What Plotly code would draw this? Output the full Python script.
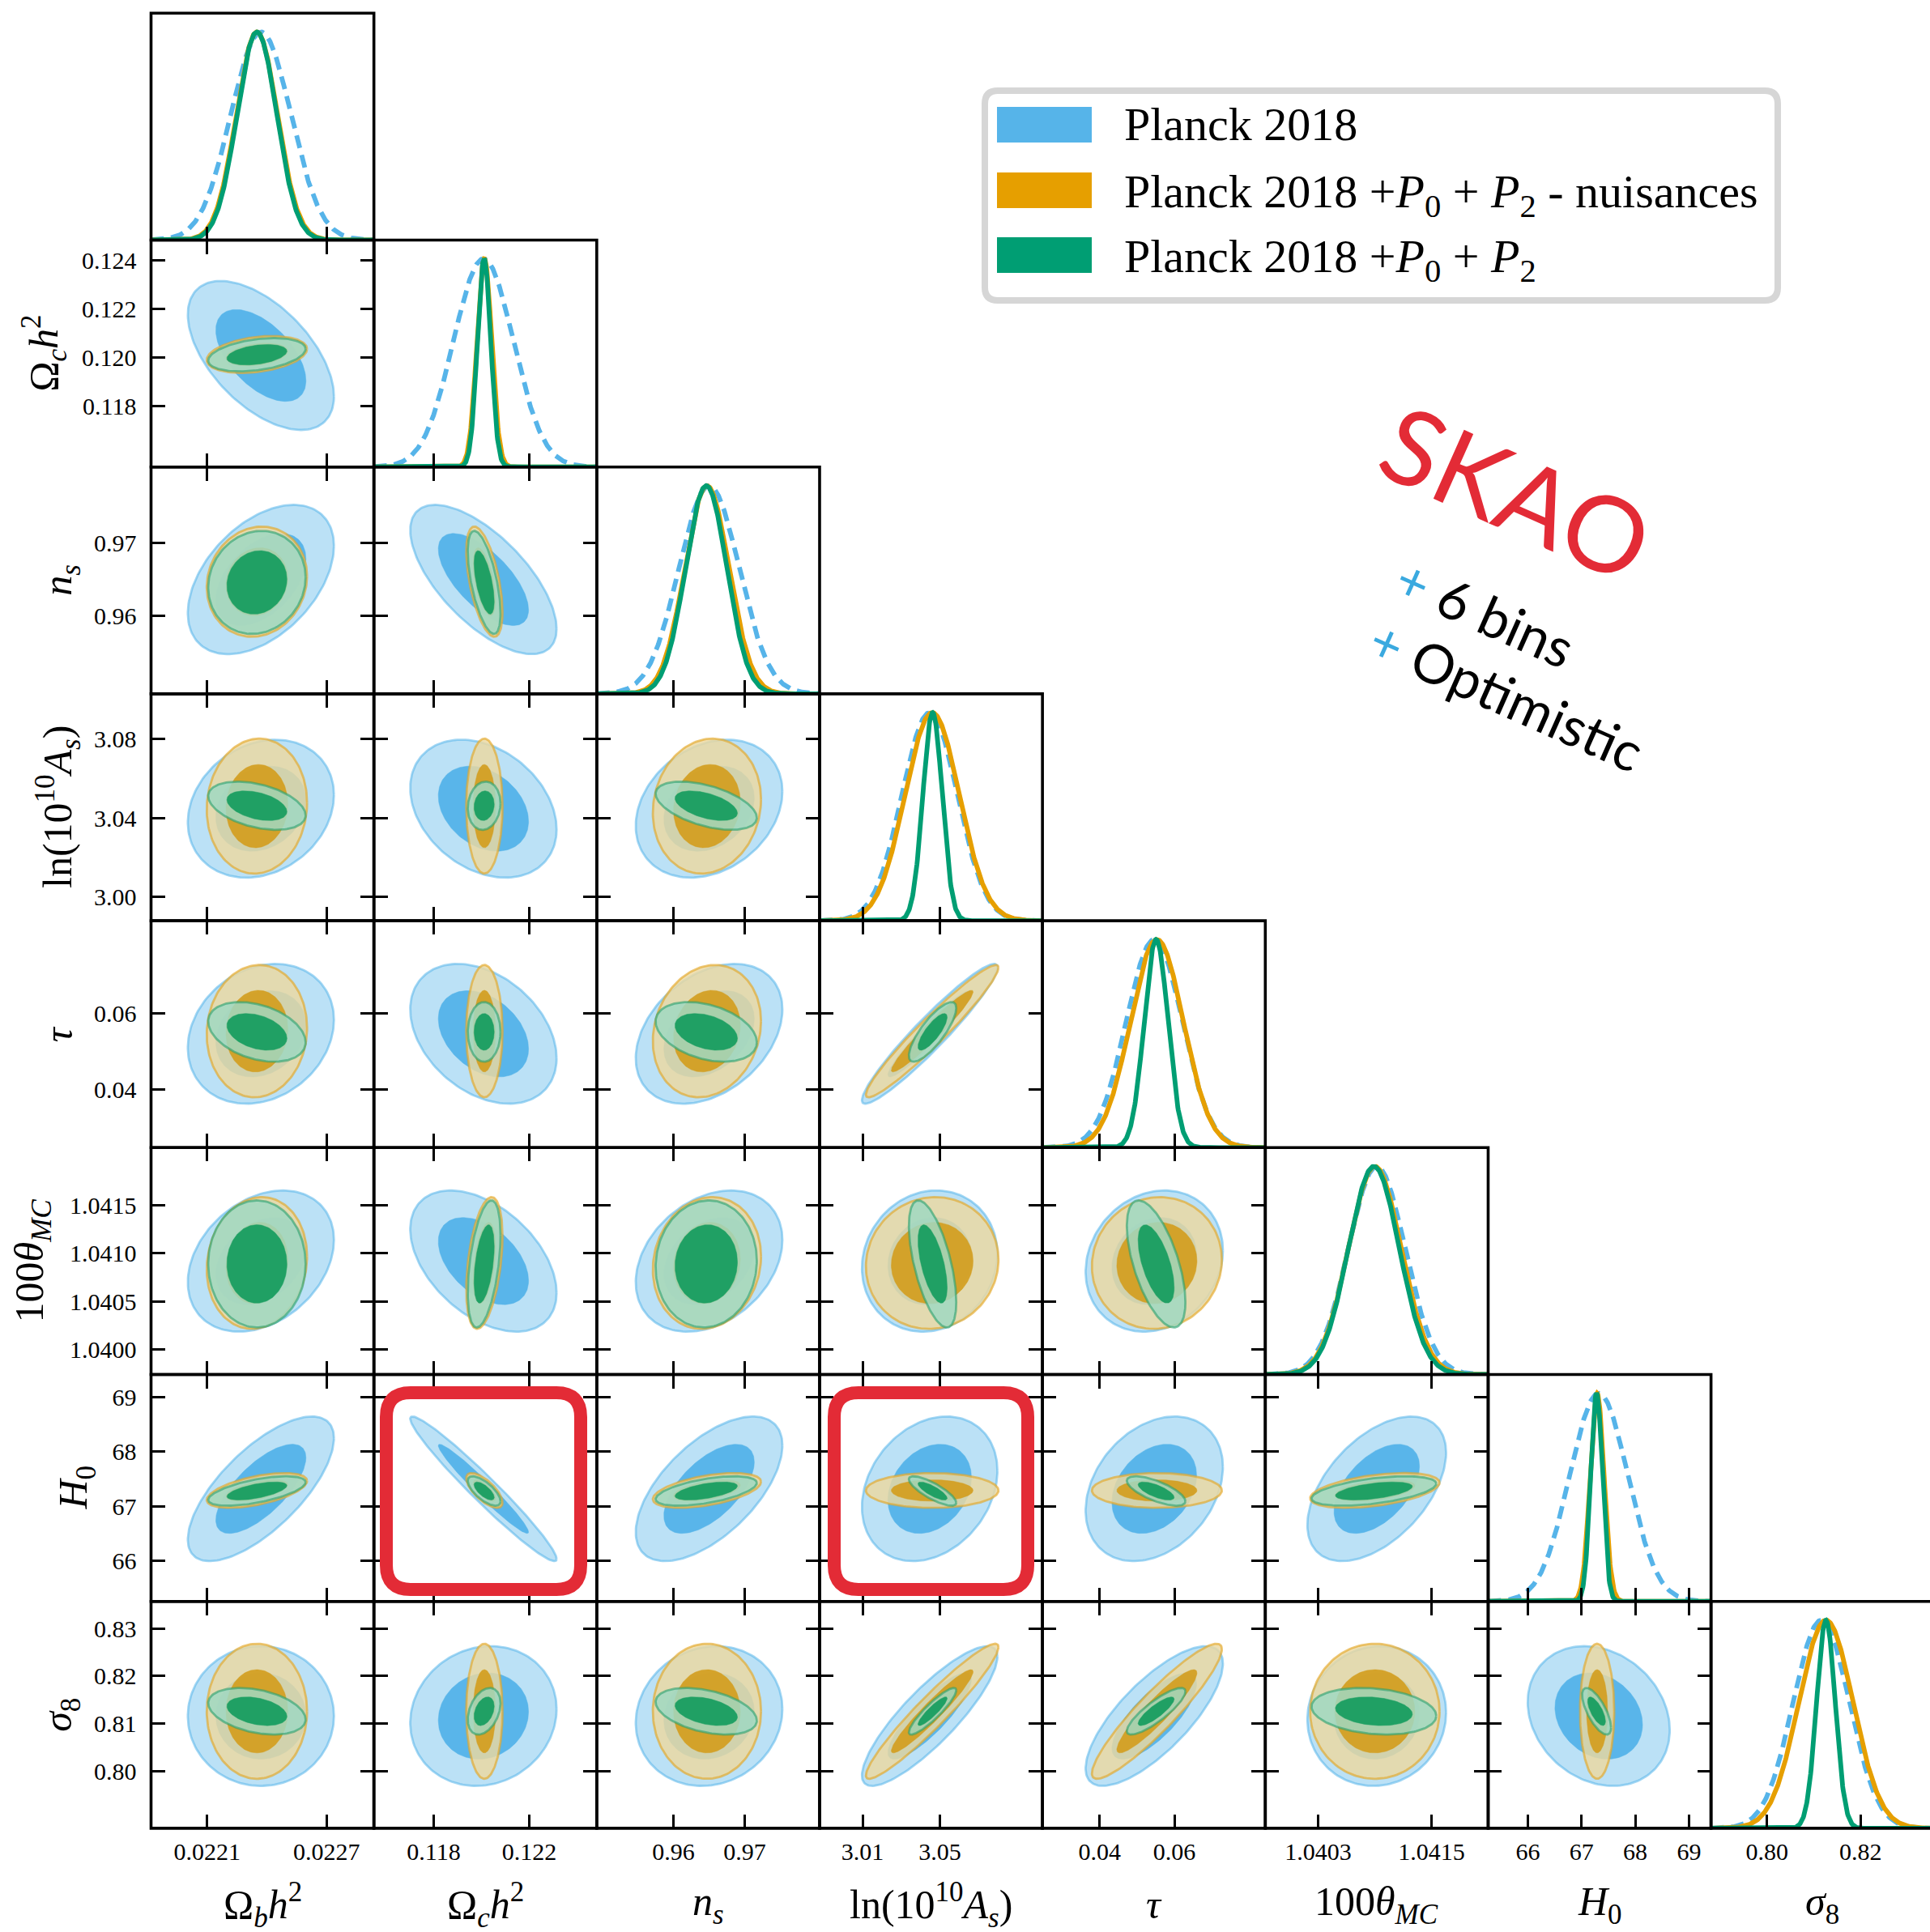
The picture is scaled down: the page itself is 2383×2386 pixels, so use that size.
import numpy as np
import plotly.graph_objects as go

# ---------------- data ----------------
param_titles = [
    "Ω<sub><i>b</i></sub><i>h</i><sup>2</sup>",
    "Ω<sub><i>c</i></sub><i>h</i><sup>2</sup>",
    "<i>n</i><sub><i>s</i></sub>",
    "ln(10<sup>10</sup><i>A</i><sub><i>s</i></sub>)",
    "<i>τ</i>",
    "100<i>θ</i><sub><i>MC</i></sub>",
    "<i>H</i><sub>0</sub>",
    "<i>σ</i><sub>8</sub>",
]
axis_ranges = [
    [0.021818, 0.022938], [0.11550, 0.12482], [0.94925, 0.98050], [2.98780, 3.10300],
    [0.02470, 0.08430], [1.039740, 1.042100], [65.262, 69.410], [0.78800, 0.83570],
]
xtick_vals = [[0.0221, 0.0227], [0.118, 0.122], [0.96, 0.97], [3.01, 3.05],
              [0.04, 0.06], [1.0403, 1.0415], [66, 67, 68, 69], [0.80, 0.82]]
xtick_text = [["0.0221", "0.0227"], ["0.118", "0.122"], ["0.96", "0.97"], ["3.01", "3.05"],
              ["0.04", "0.06"], ["1.0403", "1.0415"], ["66", "67", "68", "69"], ["0.80", "0.82"]]
ytick_vals = [[], [0.118, 0.120, 0.122, 0.124], [0.96, 0.97], [3.00, 3.04, 3.08],
              [0.04, 0.06], [1.0400, 1.0405, 1.0410, 1.0415], [66, 67, 68, 69],
              [0.80, 0.81, 0.82, 0.83]]
ytick_text = [[], ["0.118", "0.120", "0.122", "0.124"], ["0.96", "0.97"], ["3.00", "3.04", "3.08"],
              ["0.04", "0.06"], ["1.0400", "1.0405", "1.0410", "1.0415"], ["66", "67", "68", "69"],
              ["0.80", "0.81", "0.82", "0.83"]]

dataset_names = ["Planck 2018",
                 "Planck 2018 +<i>P</i><sub>0</sub> + <i>P</i><sub>2</sub> - nuisances",
                 "Planck 2018 +<i>P</i><sub>0</sub> + <i>P</i><sub>2</sub>"]

planck_mean = [0.02237, 0.12008, 0.9650, 3.0447, 0.0546, 1.04092, 67.32, 0.8116]
planck_sigma = [0.000150, 0.00125, 0.0042, 0.0143, 0.0075, 0.00030, 0.54, 0.0060]
planck_corr = [
    [],
    [-0.55],
    [0.45, -0.66],
    [0.20, -0.30, 0.25],
    [0.20, -0.35, 0.35, 0.95],
    [0.30, -0.45, 0.30, 0.10, 0.15],
    [0.70, -0.97, 0.60, 0.25, 0.30, 0.50],
    [0.00, 0.10, 0.10, 0.85, 0.75, 0.05, -0.20],
]
nuis_mean = [0.02235, 0.12012, 0.9647, 3.0460, 0.0553, 1.04090, 67.29, 0.8126]
nuis_sigma = [0.000103, 0.00031, 0.0031, 0.0140, 0.0071, 0.00028, 0.13, 0.0058]
nuis_corr = [
    [],
    [0.30],
    [0.10, -0.55],
    [0.05, 0.00, 0.10],
    [0.05, 0.00, 0.15, 0.96],
    [0.10, 0.40, 0.10, 0.05, 0.05],
    [0.55, -0.70, 0.50, 0.00, 0.00, 0.45],
    [0.00, 0.00, 0.00, 0.95, 0.92, 0.00, 0.00],
]
full_mean = [0.02235, 0.12011, 0.9646, 3.0462, 0.0551, 1.04089, 67.28, 0.8126]
full_sigma = [0.000100, 0.00028, 0.0029, 0.0050, 0.0032, 0.00027, 0.11, 0.0020]
full_corr = [
    [],
    [0.35],
    [0.10, -0.60],
    [-0.40, 0.10, -0.50],
    [-0.35, 0.00, -0.35, 0.80],
    [0.00, 0.45, 0.05, -0.60, -0.60],
    [0.60, -0.70, 0.55, -0.80, -0.70, 0.50],
    [-0.35, 0.35, -0.40, 0.90, 0.85, -0.20, -0.70],
]

# ---------------- styles ----------------
W, H = 2383, 2386
LEFT, TOP = 186.5, 16.3
COLW, ROWH = 275.16, 280.2
R95 = np.sqrt(-2 * np.log(0.05))
R68 = np.sqrt(-2 * np.log(0.32))

styles = [
    dict(outer='rgba(86,180,233,0.40)', edge='rgba(86,180,233,0.55)', inner='rgba(86,180,233,0.97)',
         line='#56B4E9', dash='16px,9px', patch='#56B4E9'),
    dict(outer='rgba(236,216,160,0.82)', edge='rgba(228,168,40,0.65)', inner='rgba(211,158,32,0.93)',
         line='#E69F00', dash='solid', patch='#E69F00'),
    dict(outer='rgba(160,216,194,0.85)', edge='rgba(40,160,110,0.6)', inner='rgba(32,160,100,1.0)',
         line='#009E73', dash='solid', patch='#009E73'),
]
datasets = [
    (planck_mean, planck_sigma, planck_corr),
    (nuis_mean, nuis_sigma, nuis_corr),
    (full_mean, full_sigma, full_corr),
]

SERIF = "Liberation Serif"
common = dict(showline=True, linewidth=1, linecolor='black', ticks='inside', ticklen=17,
              tickwidth=3, tickcolor='black', showgrid=False, zeroline=False,
              tickfont=dict(family=SERIF, size=30, color='black'),
              automargin=False)


def ellipse(mx, my, sx, sy, rho, r, n=160):
    t = np.linspace(0, 2 * np.pi, n)
    x = mx + r * sx * np.cos(t)
    y = my + r * sy * (rho * np.cos(t) + np.sqrt(1 - rho ** 2) * np.sin(t))
    return x, y


def PX(x):
    return x / W


def PY(y):
    return 1 - y / H


shapes = []
annotations = []

fig = go.Figure()
layout = {}
k = 0
for i in range(8):
    for j in range(i + 1):
        k += 1
        sfx = '' if k == 1 else str(k)
        xr, yr = 'x' + sfx, 'y' + sfx
        x0 = LEFT + j * COLW
        x1 = min(x0 + COLW, W)
        y0 = TOP + i * ROWH
        y1 = y0 + ROWH
        lo, hi = axis_ranges[j]
        hi_eff = lo + (hi - lo) * (x1 - x0) / COLW
        diag = (i == j)
        # panel frame
        shapes.append(dict(type='rect', xref='paper', yref='paper', x0=PX(x0), x1=PX(x0 + COLW + (8 if j == 7 else 0)),
                           y0=PY(y1), y1=PY(y0), line=dict(color='black', width=3.6),
                           fillcolor='rgba(0,0,0,0)', layer='above'))
        layout['xaxis' + sfx] = dict(domain=[x0 / W, x1 / W], anchor=yr, range=[lo, hi_eff],
                                     tickmode='array', tickvals=xtick_vals[j], ticktext=xtick_text[j],
                                     showticklabels=(i == 7), mirror=(True if diag else 'allticks'),
                                     ticklabelstandoff=2, **common)
        if diag:
            layout['yaxis' + sfx] = dict(domain=[1 - y1 / H, 1 - y0 / H], anchor=xr, range=[0, 1.09],
                                         ticks='', showticklabels=False, showline=False,
                                         showgrid=False, zeroline=False, automargin=False)
            xs = np.linspace(lo, hi_eff, 500)
            for d, (mean, sig, _) in enumerate(datasets):
                st = styles[d]
                ys = np.exp(-0.5 * ((xs - mean[j]) / sig[j]) ** 2)
                fig.add_trace(go.Scatter(x=xs, y=ys, mode='lines', xaxis=xr, yaxis=yr,
                                         line=dict(color=st['line'], width=5.8, dash=st['dash']),
                                         hoverinfo='skip', showlegend=False))
        else:
            lo2, hi2 = axis_ranges[i]
            layout['yaxis' + sfx] = dict(domain=[1 - y1 / H, 1 - y0 / H], anchor=xr, range=[lo2, hi2],
                                         tickmode='array', tickvals=ytick_vals[i], ticktext=ytick_text[i],
                                         showticklabels=(j == 0), mirror='allticks',
                                         ticklabelstandoff=11, **common)
            for d, (mean, sig, corr) in enumerate(datasets):
                st = styles[d]
                rho = corr[i][j]
                ex, ey = ellipse(mean[j], mean[i], sig[j], sig[i], rho, R95)
                fig.add_trace(go.Scatter(x=ex, y=ey, mode='lines', fill='toself', fillcolor=st['outer'],
                                         line=dict(color=st['edge'], width=2.8), xaxis=xr, yaxis=yr,
                                         hoverinfo='skip', showlegend=False))
                ex, ey = ellipse(mean[j], mean[i], sig[j], sig[i], rho, R68)
                fig.add_trace(go.Scatter(x=ex, y=ey, mode='lines', fill='toself', fillcolor=st['inner'],
                                         line=dict(color=st['inner'], width=0.5), xaxis=xr, yaxis=yr,
                                         hoverinfo='skip', showlegend=False))


def rounded_path(x0, y0, x1, y1, r):
    pts = [
        ('M', [(x0 + r, y0)]), ('L', [(x1 - r, y0)]), ('Q', [(x1, y0), (x1, y0 + r)]),
        ('L', [(x1, y1 - r)]), ('Q', [(x1, y1), (x1 - r, y1)]), ('L', [(x0 + r, y1)]),
        ('Q', [(x0, y1), (x0, y1 - r)]), ('L', [(x0, y0 + r)]), ('Q', [(x0, y0), (x0 + r, y0)]),
    ]
    s = ''
    for cmd, ps in pts:
        s += cmd + ' ' + ' '.join(f'{PX(a):.6f},{PY(b):.6f}' for a, b in ps) + ' '
    return s + 'Z'


# axis titles
ylab_x = [None, 55, 75, 72, 72, 40, 94, 75]
for i in range(1, 8):
    yc = TOP + (i + 0.5) * ROWH
    annotations.append(dict(x=PX(ylab_x[i]), y=PY(yc), xref='paper', yref='paper',
                            text=param_titles[i], textangle=-90, showarrow=False,
                            xanchor='center', yanchor='middle',
                            font=dict(family=SERIF, size=50, color='black')))
for j in range(8):
    xc = LEFT + (j + 0.5) * COLW
    annotations.append(dict(x=PX(xc), y=PY(2352), xref='paper', yref='paper',
                            text=param_titles[j], showarrow=False, xanchor='center', yanchor='middle',
                            font=dict(family=SERIF, size=50, color='black')))

# legend box
shapes.append(dict(type='path', xref='paper', yref='paper', path=rounded_path(1216, 112, 2195, 371, 16),
                   line=dict(color='#D6D6D6', width=8), fillcolor='white', layer='above'))
patch_y = [154, 235, 315]
text_y = [154, 240, 321]
for d in range(3):
    shapes.append(dict(type='rect', xref='paper', yref='paper', x0=PX(1231), x1=PX(1348),
                       y0=PY(patch_y[d] - 22), y1=PY(patch_y[d] + 22), line=dict(width=0),
                       fillcolor=styles[d]['patch'], layer='above'))
    annotations.append(dict(x=PX(1386), y=PY(text_y[d]), xref='paper', yref='paper',
                            text=dataset_names[d], showarrow=False, xanchor='left', yanchor='middle',
                            font=dict(family=SERIF, size=58, color='black')))

# red highlight boxes
for (bx0, bx1) in [(477, 717), (1030, 1269)]:
    shapes.append(dict(type='path', xref='paper', yref='paper', path=rounded_path(bx0, 1720, bx1, 1963, 30),
                       line=dict(color='#E32B36', width=16), fillcolor='rgba(0,0,0,0)', layer='above'))

# SKAO text
annotations.append(dict(x=PX(1873), y=PY(607), xref='paper', yref='paper', text='SKAO', textangle=24,
                        showarrow=False, xanchor='center', yanchor='middle',
                        font=dict(family='Lato', size=130, color='#E32B36')))
annotations.append(dict(x=PX(1834), y=PY(756), xref='paper', yref='paper',
                        text='<span style="color:#3AA9DF">+</span> 6 bins', textangle=24,
                        showarrow=False, xanchor='center', yanchor='middle',
                        font=dict(family='Lato', size=67, color='black')))
annotations.append(dict(x=PX(1860), y=PY(858), xref='paper', yref='paper',
                        text='<span style="color:#3AA9DF">+</span> Optimistic', textangle=24,
                        showarrow=False, xanchor='center', yanchor='middle',
                        font=dict(family='Lato', size=67, color='black')))

fig.update_layout(template='none', width=W, height=H, margin=dict(l=0, r=0, t=0, b=0, pad=0),
                  paper_bgcolor='white', plot_bgcolor='white', showlegend=False, hovermode=False,
                  font=dict(family=SERIF, color='black'), shapes=shapes, annotations=annotations,
                  **layout)
fig.write_html("out.html")
